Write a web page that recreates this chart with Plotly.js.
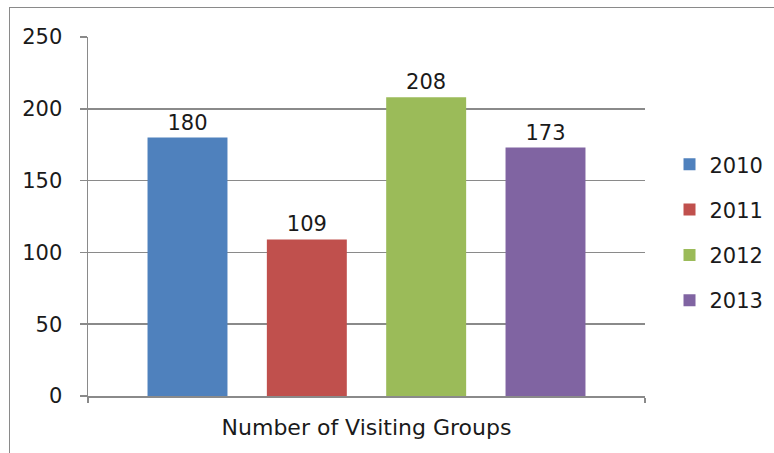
<!DOCTYPE html>
<html>
<head>
<meta charset="utf-8">
<script src="https://cdn.plot.ly/plotly-3.0.1.min.js"></script>
<style>
html,body{margin:0;padding:0;background:#fff;overflow:hidden;}
#wrap{position:relative;width:774px;height:453px;}
#chart{position:absolute;left:0;top:0;width:774px;height:453px;}
#frame{position:absolute;left:9px;top:7px;width:800px;height:500px;border:1.5px solid #8a8a8a;box-sizing:border-box;pointer-events:none;}
</style>
</head>
<body>
<div id="wrap"><div id="chart"></div><div id="frame"></div></div>
<script>
const categories = ["Number of Visiting Groups"];
const years = ["2010", "2011", "2012", "2013"];
const values = [180, 109, 208, 173];
const colors = ["#4F81BD", "#C0504D", "#9BBB59", "#8064A2"];
const yTicks = [0, 50, 100, 150, 200, 250];

const FONT = "'DejaVu Sans', 'Open Sans', sans-serif";
const FS = 21;

const traces = years.map((yr, i) => ({
  type: "bar",
  name: yr,
  x: categories,
  y: [values[i]],
  marker: {color: colors[i]},
  text: [String(values[i])],
  textposition: "outside",
  textfont: {family: FONT, size: FS, color: "#1a1a1a"},
  cliponaxis: false,
  legendgroup: yr,
  hoverinfo: "skip"
}));

const layout = {
  width: 774, height: 453,
  margin: {l: 88, r: 129, t: 37, b: 57, autoexpand: false},
  paper_bgcolor: "#ffffff",
  plot_bgcolor: "#ffffff",
  barmode: "group",
  bargap: 0.143,
  bargroupgap: 0.33,
  font: {family: FONT, size: FS, color: "#1a1a1a"},
  showlegend: true,
  legend: {
    x: 1.044, xanchor: "left",
    y: 0.455, yanchor: "middle",
    traceorder: "grouped",
    tracegroupgap: 15,
    font: {family: FONT, size: FS, color: "#1a1a1a"},
    bgcolor: "rgba(0,0,0,0)"
  },
  xaxis: {
    type: "category",
    showgrid: false,
    showline: true, linecolor: "#8a8a8a", linewidth: 1.5,
    ticks: "outside", tickson: "boundaries", ticklen: 5, tickcolor: "#8a8a8a", tickwidth: 1.5,
    tickfont: {family: FONT, size: 22, color: "#1a1a1a"},
    ticklabelstandoff: 11,
    zeroline: false,
    fixedrange: true
  },
  yaxis: {
    range: [0, 250],
    tickmode: "array", tickvals: yTicks, ticktext: yTicks.map(String),
    showgrid: true, gridcolor: "#8a8a8a", gridwidth: 1.5,
    showline: true, linecolor: "#8a8a8a", linewidth: 1.5,
    ticks: "outside", ticklen: 7, tickcolor: "#8a8a8a", tickwidth: 1.5,
    tickfont: {family: FONT, size: FS, color: "#1a1a1a"},
    ticklabelstandoff: 13,
    zeroline: false,
    fixedrange: true
  }
};

Plotly.newPlot("chart", traces, layout, {displayModeBar: false, staticPlot: true});
</script>
</body>
</html>
